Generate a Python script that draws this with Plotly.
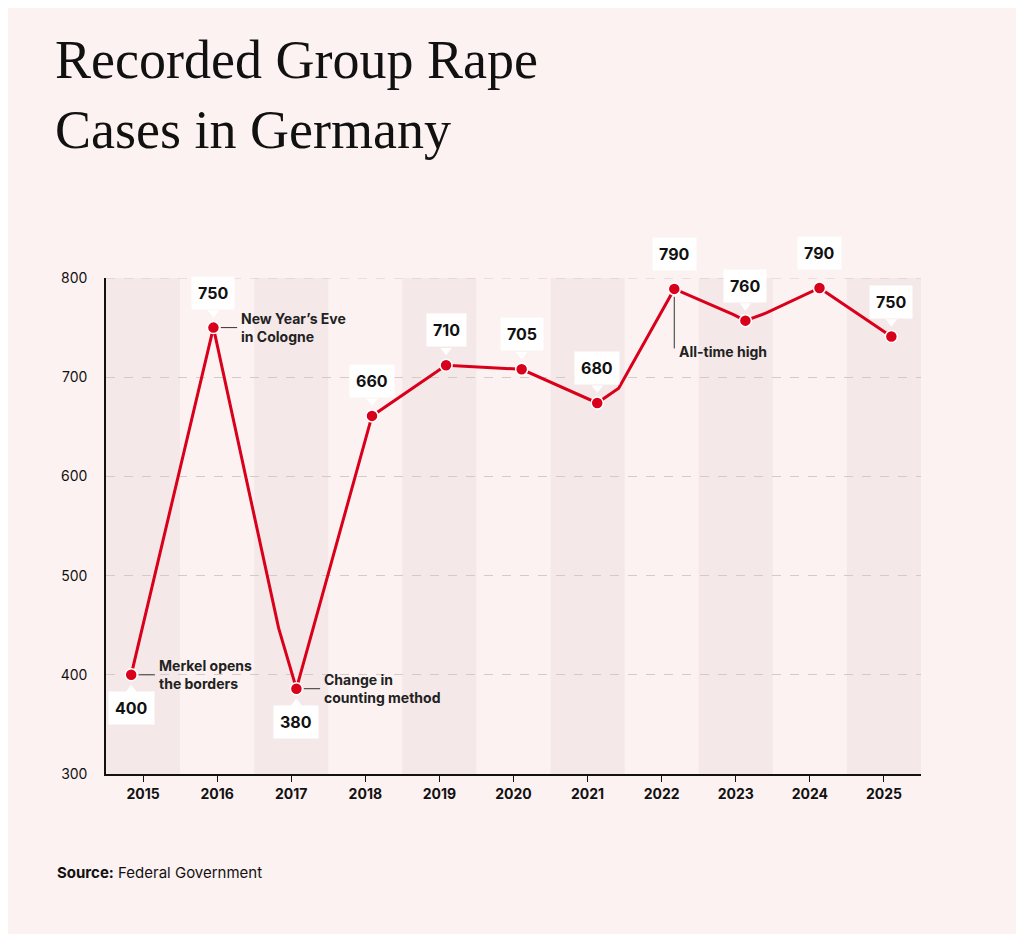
import plotly.graph_objects as go

years = list(range(2015, 2026))
label_values = [400, 750, 380, 660, 710, 705, 680, 790, 760, 790, 750]
point_x = [2014.84, 2015.95, 2017.07, 2018.09, 2019.09, 2020.11, 2021.13, 2022.17, 2023.13, 2024.13, 2025.10]
point_y = [400, 750, 386, 661, 712, 708, 674, 789, 757, 790, 741]
# extra bends of the drawn line
path_x = [2014.84, 2015.95, 2016.83, 2017.07, 2018.09, 2019.09, 2020.11, 2021.13, 2021.42, 2022.17, 2022.97, 2023.13, 2023.42, 2024.13, 2025.10]
path_y = [400, 750, 447, 386, 661, 712, 708, 674, 689, 789, 763, 757, 765, 790, 741]
notes = {2015: "Merkel opens<br>the borders", 2016: "New Year’s Eve<br>in Cologne",
         2017: "Change in<br>counting method", 2022: "All-time high"}

RED = "#d9001b"
BG = "#fdf2f2"
fig = go.Figure()

shapes = []
for i, y in enumerate(years):
    if i % 2 == 0:
        shapes.append(dict(type="rect", xref="x", yref="paper", x0=y - 0.5, x1=y + 0.5, y0=0, y1=1,
                           fillcolor="#f5e8e8", line_width=0, layer="below"))
# top gridline at 800 sits on the edge of the range
shapes.append(dict(type="line", xref="paper", x0=0, x1=1, y0=800, y1=800,
                   line=dict(color="#d4caca", width=1, dash="dash"), layer="below"))

fig.add_trace(go.Scatter(x=path_x, y=path_y, mode="lines", line=dict(color=RED, width=3),
                         hoverinfo="skip", cliponaxis=False))
fig.add_trace(go.Scatter(x=point_x, y=point_y, mode="markers", cliponaxis=False,
                         marker=dict(color=RED, size=12, line=dict(color="white", width=1.5))))

annotations = []
tri_x, tri_y, tri_sym = [], [], []
for yr, px, py, lv in zip(years, point_x, point_y, label_values):
    below = yr in (2015, 2017)
    annotations.append(dict(x=px, y=py, text="<b>%d</b>" % lv, showarrow=False,
                            yshift=-33 if below else 35, bgcolor="white", borderpad=6,
                            font=dict(size=16, color="#111")))
    tri_x.append(px)
    tri_y.append(py - 15 if below else py + 15)
    tri_sym.append("triangle-up" if below else "triangle-down")
fig.add_trace(go.Scatter(x=tri_x, y=tri_y, mode="markers", cliponaxis=False,
                         marker=dict(symbol=tri_sym, color="white", size=10), hoverinfo="skip"))

for yr, txt in notes.items():
    i = years.index(yr)
    px, py = point_x[i], point_y[i]
    if yr == 2022:
        shapes.append(dict(type="line", x0=px, x1=px, y0=py - 8, y1=py - 60, line=dict(color="#333", width=1)))
        annotations.append(dict(x=px, y=py - 63, text="<b>" + txt + "</b>", showarrow=False,
                                xanchor="left", xshift=3, font=dict(size=14, color="#222")))
    else:
        shapes.append(dict(type="line", x0=px + 0.1, x1=px + 0.32, y0=py, y1=py, line=dict(color="#333", width=1)))
        annotations.append(dict(x=px + 0.35, y=py, text="<b>" + txt + "</b>", showarrow=False,
                                xanchor="left", align="left", font=dict(size=14, color="#222")))

annotations.append(dict(xref="paper", yref="paper", x=-0.062, y=-0.198, xanchor="left", yanchor="middle",
                        text="<b>Source:</b> Federal Government", showarrow=False,
                        font=dict(size=15, color="#111")))

fig.update_layout(
    width=1024, height=934, paper_bgcolor=BG, plot_bgcolor=BG,
    margin=dict(l=98, r=111, t=270, b=168), showlegend=False,
    font=dict(family="Inter, Liberation Sans, sans-serif", color="#111"),
    title=dict(text="Recorded Group Rape<br>Cases in Germany", x=0.046, xanchor="left",
               y=0.925, yanchor="top",
               font=dict(family="Liberation Serif, DejaVu Serif, serif", size=54, color="#111")),
    shapes=shapes, annotations=annotations,
    xaxis=dict(range=[2014.5, 2025.5], tickvals=years, ticktext=["<b>%d</b>" % y for y in years],
               showgrid=False, zeroline=False, showline=True, linecolor="#111", linewidth=1.5,
               ticks="outside", ticklen=6, tickcolor="#111", tickfont=dict(size=14)),
    yaxis=dict(range=[300, 800], tickvals=[300, 400, 500, 600, 700, 800], showgrid=True,
               gridcolor="#d4caca", griddash="dash", zeroline=False, showline=True,
               linecolor="#111", linewidth=1.5, tickfont=dict(size=14), ticklabelstandoff=14),
)

fig.write_html("out.html")
